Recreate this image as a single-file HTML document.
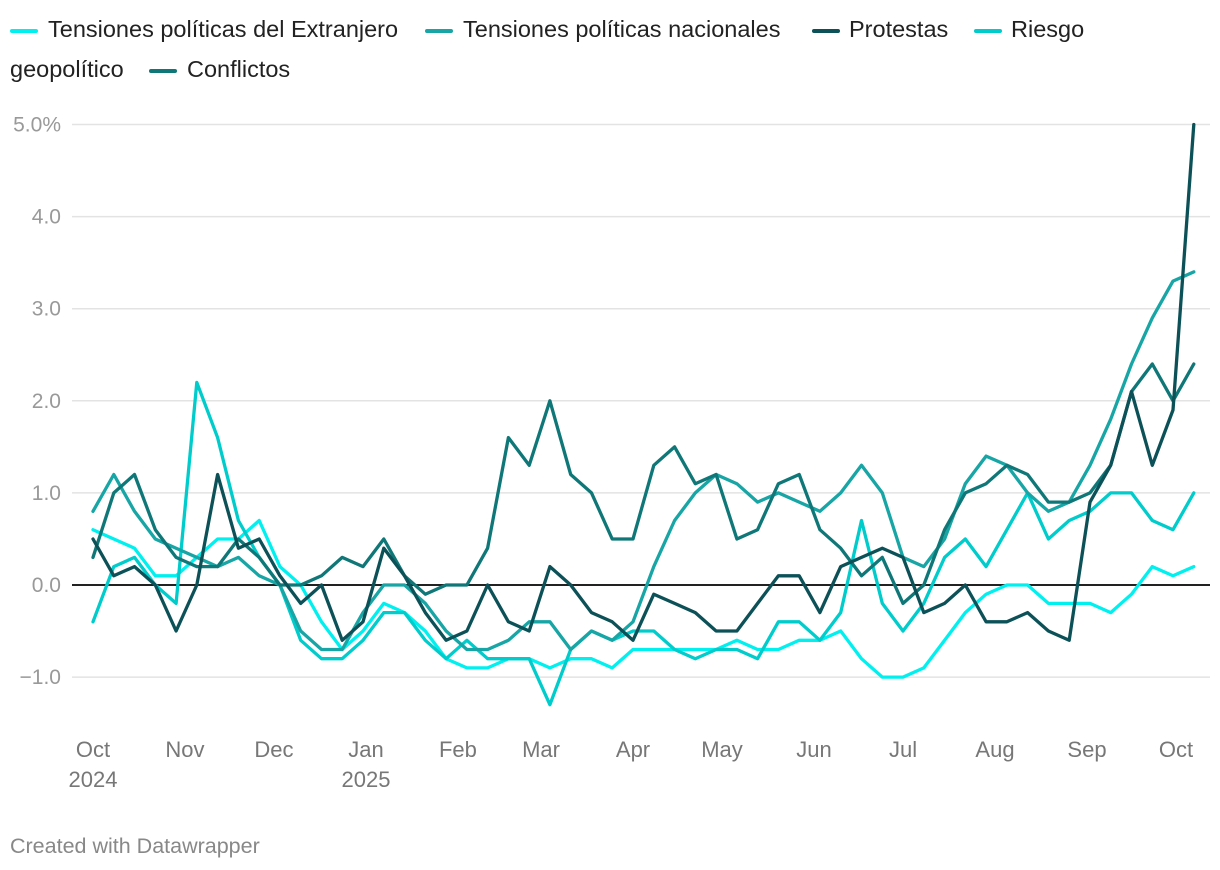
<!DOCTYPE html>
<html><head><meta charset="utf-8">
<style>
body{margin:0;background:#fff;font-family:"Liberation Sans",Roboto,sans-serif;}
#wrap{position:relative;width:1220px;height:870px;overflow:hidden;}
.leg{position:absolute;font-size:23.5px;color:#222;white-space:nowrap;}
.sw{position:absolute;height:4px;width:28px;border-radius:2px;}
#foot{position:absolute;left:10px;top:834px;font-size:21.5px;color:#888;}
</style></head>
<body>
<div id="wrap">
  <span class="sw" style="left:10px;top:29px;background:#00f0f0"></span>
  <span class="leg" style="left:48px;top:16px">Tensiones políticas del Extranjero</span>
  <span class="sw" style="left:425px;top:29px;background:#17a5a5"></span>
  <span class="leg" style="left:463px;top:16px">Tensiones políticas nacionales</span>
  <span class="sw" style="left:812px;top:29px;background:#0b5157"></span>
  <span class="leg" style="left:849px;top:16px">Protestas</span>
  <span class="sw" style="left:974px;top:29px;background:#00cccc"></span>
  <span class="leg" style="left:1011px;top:16px">Riesgo</span>
  <span class="leg" style="left:10px;top:56px">geopolítico</span>
  <span class="sw" style="left:149px;top:69px;background:#0f7777"></span>
  <span class="leg" style="left:187px;top:56px">Conflictos</span>
  <svg id="svg" width="1220" height="870" style="position:absolute;left:0;top:0"></svg>
  <div id="foot">Created with Datawrapper</div>
</div>
<script>
const yTicks=[-1,0,1,2,3,4,5];
const yTickLabels=["\u22121.0","0.0","1.0","2.0","3.0","4.0","5.0%"];
const monthLabels=["Oct","Nov","Dec","Jan","Feb","Mar","Apr","May","Jun","Jul","Aug","Sep","Oct"];
const monthDays=[0,31,61,92,123,151,182,212,243,273,304,335,365];
const yearLabels=["2024","2025"];
const yearDays=[0,92];
const stepDays=7;
const extranjero=[0.6,0.5,0.4,0.1,0.1,0.3,0.5,0.5,0.7,0.2,0.0,-0.4,-0.7,-0.5,-0.2,-0.3,-0.5,-0.8,-0.9,-0.9,-0.8,-0.8,-0.9,-0.8,-0.8,-0.9,-0.7,-0.7,-0.7,-0.7,-0.7,-0.6,-0.7,-0.7,-0.6,-0.6,-0.5,-0.8,-1.0,-1.0,-0.9,-0.6,-0.3,-0.1,0.0,0.0,-0.2,-0.2,-0.2,-0.3,-0.1,0.2,0.1,0.2];
const nacionales=[0.8,1.2,0.8,0.5,0.4,0.3,0.2,0.3,0.1,0.0,-0.5,-0.7,-0.7,-0.3,0.0,0.0,-0.2,-0.5,-0.7,-0.7,-0.6,-0.4,-0.4,-0.7,-0.5,-0.6,-0.4,0.2,0.7,1.0,1.2,1.1,0.9,1.0,0.9,0.8,1.0,1.3,1.0,0.3,0.2,0.5,1.1,1.4,1.3,1.0,0.8,0.9,1.3,1.8,2.4,2.9,3.3,3.4];
const protestas=[0.5,0.1,0.2,0.0,-0.5,0.0,1.2,0.4,0.5,0.1,-0.2,0.0,-0.6,-0.4,0.4,0.1,-0.3,-0.6,-0.5,0.0,-0.4,-0.5,0.2,0.0,-0.3,-0.4,-0.6,-0.1,-0.2,-0.3,-0.5,-0.5,-0.2,0.1,0.1,-0.3,0.2,0.3,0.4,0.3,-0.3,-0.2,0.0,-0.4,-0.4,-0.3,-0.5,-0.6,0.9,1.3,2.1,1.3,1.9,5.0];
const riesgo=[-0.4,0.2,0.3,0.0,-0.2,2.2,1.6,0.7,0.3,0.0,-0.6,-0.8,-0.8,-0.6,-0.3,-0.3,-0.6,-0.8,-0.6,-0.8,-0.8,-0.8,-1.3,-0.7,-0.5,-0.6,-0.5,-0.5,-0.7,-0.8,-0.7,-0.7,-0.8,-0.4,-0.4,-0.6,-0.3,0.7,-0.2,-0.5,-0.2,0.3,0.5,0.2,0.6,1.0,0.5,0.7,0.8,1.0,1.0,0.7,0.6,1.0];
const conflictos=[0.3,1.0,1.2,0.6,0.3,0.2,0.2,0.5,0.3,0.0,0.0,0.1,0.3,0.2,0.5,0.1,-0.1,0.0,0.0,0.4,1.6,1.3,2.0,1.2,1.0,0.5,0.5,1.3,1.5,1.1,1.2,0.5,0.6,1.1,1.2,0.6,0.4,0.1,0.3,-0.2,0.0,0.6,1.0,1.1,1.3,1.2,0.9,0.9,1.0,1.3,2.1,2.4,2.0,2.4];

const NS="http://www.w3.org/2000/svg";
const svg=document.getElementById('svg');
const xS=d=>93+d*(1083/365);
const yS=v=>585-v*92.1;
function mk(t,a){const e=document.createElementNS(NS,t);for(const k in a)e.setAttribute(k,a[k]);svg.appendChild(e);return e;}
yTicks.forEach((v,i)=>{
  const l=mk('line',{x1:72,x2:1210,y1:yS(v),y2:yS(v),stroke:v===0?'#222':'#e3e3e3','stroke-width':v===0?2:1.5});
  
  
  const t=mk('text',{x:61,y:yS(v)+7,'text-anchor':'end','font-size':21,fill:'#999','font-family':'Liberation Sans, sans-serif'});
  t.textContent=yTickLabels[i];
  
  
});
monthLabels.forEach((m,i)=>{
  const t=mk('text',{x:xS(monthDays[i]),y:757,'text-anchor':'middle','font-size':22,fill:'#777','font-family':'Liberation Sans, sans-serif'});
  t.textContent=m;
  
  
});
yearLabels.forEach((m,i)=>{
  const t=mk('text',{x:xS(yearDays[i]),y:787,'text-anchor':'middle','font-size':22,fill:'#777','font-family':'Liberation Sans, sans-serif'});
  t.textContent=m;
  
  
});
const series=[[extranjero,'#00f0f0','line-extranjero'],[riesgo,'#00cccc','line-riesgo'],[nacionales,'#17a5a5','line-nacionales'],[conflictos,'#0f7777','line-conflictos'],[protestas,'#0b5157','line-protestas']];
series.forEach(s=>{
  const pts=s[0].map((v,i)=>xS(i*stepDays).toFixed(1)+','+yS(v).toFixed(1)).join(' ');
  const p=mk('polyline',{points:pts,fill:'none',stroke:s[1],'stroke-width':3.3,'stroke-linejoin':'round','stroke-linecap':'round'});
  
  
});
</script>
</body></html>
